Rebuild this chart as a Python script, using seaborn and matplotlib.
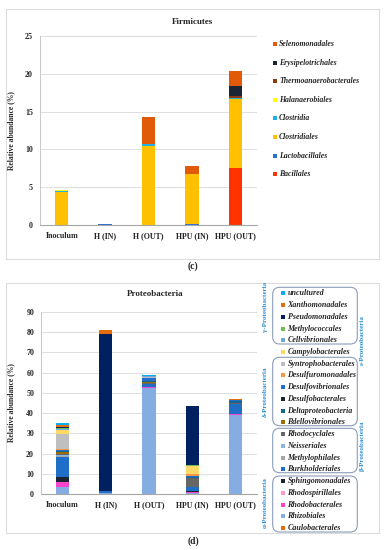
import numpy as np
import pandas as pd
import seaborn as sns
import matplotlib.pyplot as plt
from matplotlib.patches import Rectangle, FancyBboxPatch

W, H = 384, 550

samples = ["Inoculum", "H (IN)", "H (OUT)", "HPU (IN)", "HPU (OUT)"]

# Firmicutes, bottom to top of the stack
firm_orders = ["Bacillales", "Lactobacillales", "Clostridiales", "Clostridia",
               "Halanaerobiales", "Thermoanaerobacterales", "Erysipelotrichales",
               "Selenomonadales"]
bacillales = [0, 0, 0, 0, 7.6]
lactobacillales = [0.05, 0.15, 0.1, 0.2, 0]
clostridiales = [4.3, 0, 10.4, 6.6, 9.0]
clostridia = [0.15, 0.05, 0.2, 0, 0.2]
halanaerobiales = [0.2, 0, 0.05, 0, 0.05]
thermoanaerobacterales = [0, 0, 0, 0, 0.15]
erysipelotrichales = [0, 0, 0, 0, 1.35]
selenomonadales = [0, 0, 3.5, 1.05, 2.05]
firm_values = [bacillales, lactobacillales, clostridiales, clostridia,
               halanaerobiales, thermoanaerobacterales, erysipelotrichales,
               selenomonadales]
firm_colors = ["#FF3300", "#2F6FD0", "#FFC000", "#1FB0E8",
               "#FFFF00", "#8B3A12", "#1C2535", "#E05A0A"]

# Proteobacteria, bottom to top of the stack
prot_orders = ["Caulobacterales", "Rhizobiales", "Rhodobacterales", "Rhodospirillales",
               "Sphingomonadales", "Burkholderiales", "Methylophilales", "Neisseriales",
               "Rhodocyclales", "Bdellovibrionales", "Deltaproteobacteria",
               "Desulfobacterales", "Desulfovibrionales", "Desulfuromonadales",
               "Syntrophobacterales", "Campylobacterales", "Cellvibrionales",
               "Methylococcales", "Pseudomonadales", "Xanthomonadales", "uncultured"]
caulobacterales = [0.1, 0, 0, 0, 0]
rhizobiales = [3.3, 0.3, 52.3, 0.4, 39.3]
rhodobacterales = [2.3, 0, 0.4, 0.5, 0.5]
rhodospirillales = [0.2, 0, 0, 0.3, 0]
sphingomonadales = [2.6, 0, 0, 0.2, 0]
burkholderiales = [9.9, 1.3, 1.8, 2.0, 4.5]
methylophilales = [0.4, 0, 0, 0.3, 0]
neisseriales = [0.4, 0, 0, 0, 0]
rhodocyclales = [0.6, 0, 0.4, 4.1, 0.6]
bdellovibrionales = [0.8, 0, 0.6, 0, 0.3]
deltaproteobacteria = [0.6, 0, 0.3, 0.6, 0.6]
desulfobacterales = [0.3, 0, 0, 0, 0]
desulfovibrionales = [0.5, 0, 1.8, 0.5, 0.6]
desulfuromonadales = [0.2, 0, 0, 0.8, 0]
syntrophobacterales = [7.3, 0, 0.5, 0, 0]
campylobacterales = [2.2, 0, 0, 4.3, 0]
cellvibrionales = [0.3, 0, 0.4, 0, 0]
methylococcales = [0.5, 0, 0, 0.2, 0]
pseudomonadales = [0.4, 77.4, 0, 29.3, 0]
xanthomonadales = [1.4, 2.3, 0, 0, 0.4]
uncultured = [0.6, 0, 0.3, 0.2, 0]
prot_values = [caulobacterales, rhizobiales, rhodobacterales, rhodospirillales,
               sphingomonadales, burkholderiales, methylophilales, neisseriales,
               rhodocyclales, bdellovibrionales, deltaproteobacteria,
               desulfobacterales, desulfovibrionales, desulfuromonadales,
               syntrophobacterales, campylobacterales, cellvibrionales,
               methylococcales, pseudomonadales, xanthomonadales, uncultured]
prot_colors = ["#E46C0A", "#85ADE1", "#FF44CC", "#FF99CC",
               "#1C2331", "#1F6FC8", "#A6A6A6", "#8EB4E3",
               "#666666", "#9C7000", "#17658F",
               "#1C2331", "#1F6FD0", "#F79646",
               "#BFBFBF", "#FFD966", "#6FA8DC",
               "#70BF50", "#002060", "#E46C0A", "#00B0F0"]

sns.set_style("white")
plt.rcParams["font.family"] = ["Liberation Serif", "DejaVu Serif"]
plt.rcParams["font.weight"] = "bold"

fig = plt.figure(figsize=(W / 100, H / 100), dpi=100)


def fx(x):
    return x / W


def fy(y):
    return 1 - y / H


def stacked(ax, orders, values, colors):
    rows = []
    for name, vals in zip(orders, values):
        for s, v in zip(samples, vals):
            rows.append({"order": name, "sample": s, "value": v})
    df = pd.DataFrame(rows)
    df["top"] = df.groupby("sample")["value"].cumsum()
    # draw cumulative tops from the top layer down
    for name, col in reversed(list(zip(orders, colors))):
        sub = df[df["order"] == name]
        sns.barplot(data=sub, x="sample", y="top", order=samples, color=col,
                    saturation=1, width=0.31, errorbar=None, linewidth=0, ax=ax)


def style_axes(ax, ymax, step, label_x):
    ax.set_ylim(0, ymax)
    ax.set_yticks(np.arange(0, ymax + 0.1, step))
    ax.yaxis.grid(True, color="#D9D9D9", lw=0.6)
    ax.set_axisbelow(True)
    for s in ["top", "right"]:
        ax.spines[s].set_visible(False)
    ax.spines["left"].set_color("#C8C8C8")
    ax.spines["bottom"].set_color("#A6A6A6")
    ax.spines["left"].set_linewidth(0.7)
    ax.spines["bottom"].set_linewidth(0.8)
    ax.tick_params(axis="both", length=0, labelsize=5.7, pad=5)
    ax.set_xlabel("")
    ax.set_ylabel("Relative abundance (%)", fontsize=5.5, fontweight="bold")
    ax.yaxis.set_label_coords(label_x, 0.5)
    for t in ax.get_xticklabels() + ax.get_yticklabels():
        t.set_fontweight("bold")


# panel frames
fig.add_artist(Rectangle((fx(6), fy(259)), fx(379) - fx(6), fy(9) - fy(259),
                         transform=fig.transFigure, fill=False, ec="#DCDCDC", lw=0.8))
fig.add_artist(Rectangle((fx(6), fy(533)), fx(379) - fx(6), fy(283) - fy(533),
                         transform=fig.transFigure, fill=False, ec="#DCDCDC", lw=0.8))

# ---- Firmicutes ----
ax1 = fig.add_axes([fx(40), fy(225.3), fx(257) - fx(40), fy(35.7) - fy(225.3)])
stacked(ax1, firm_orders, firm_values, firm_colors)
style_axes(ax1, 25, 5, -0.115)
fig.text(fx(192), fy(22), "Firmicutes", ha="center", va="center",
         fontsize=6.5, fontweight="bold")

for i, (name, col) in enumerate(reversed(list(zip(firm_orders, firm_colors)))):
    y = 44 + i * 18.6
    fig.add_artist(Rectangle((fx(272.5), fy(y + 2)), fx(4), fy(0) - fy(4),
                             transform=fig.transFigure, color=col, lw=0))
    fig.text(fx(279), fy(y), name, ha="left", va="center", fontsize=5.6,
             fontweight="bold", style="italic")

fig.text(fx(193), fy(266.5), "(c)", ha="center", va="center", fontsize=7,
         fontweight="bold")

# ---- Proteobacteria ----
ax2 = fig.add_axes([fx(41), fy(494), fx(257) - fx(41), fy(312) - fy(494)])
stacked(ax2, prot_orders, prot_values, prot_colors)
style_axes(ax2, 90, 10, -0.12)
fig.text(fx(155), fy(294), "Proteobacteria", ha="center", va="center",
         fontsize=6.5, fontweight="bold")

for i, (name, col) in enumerate(reversed(list(zip(prot_orders, prot_colors)))):
    y = 293.3 + i * 11.74
    fig.add_artist(Rectangle((fx(281), fy(y + 2)), fx(4), fy(0) - fy(4),
                             transform=fig.transFigure, color=col, lw=0))
    fig.text(fx(287.5), fy(y), name, ha="left", va="center", fontsize=5.8,
             fontweight="bold", style="italic")

# rounded group boxes
group_boxes = [(287.3, 344), (357.3, 425.7), (428.3, 472.7), (476, 532)]
for y0, y1 in group_boxes:
    fig.add_artist(FancyBboxPatch((272.7 / 100, (H - y1) / 100), (357.3 - 272.7) / 100,
                                  (y1 - y0) / 100,
                                  boxstyle="round,pad=0,rounding_size=0.07",
                                  transform=fig.dpi_scale_trans, fill=False,
                                  ec="#8C9DB8", lw=0.8))

group_labels = [("γ-Proteobacteria", 265, 307), ("δ-Proteobacteria", 265, 392),
                ("α-Proteobacteria", 265, 503), ("ε-Proteobacteria", 362, 340),
                ("β-Proteobacteria", 362, 446)]
for txt, x, y in group_labels:
    fig.text(fx(x), fy(y), txt, ha="center", va="center", rotation=90,
             fontsize=5, fontweight="bold", color="#2E8FD0")

fig.text(fx(193), fy(541.5), "(d)", ha="center", va="center", fontsize=7,
         fontweight="bold")

fig.savefig("out.png", dpi=100)
